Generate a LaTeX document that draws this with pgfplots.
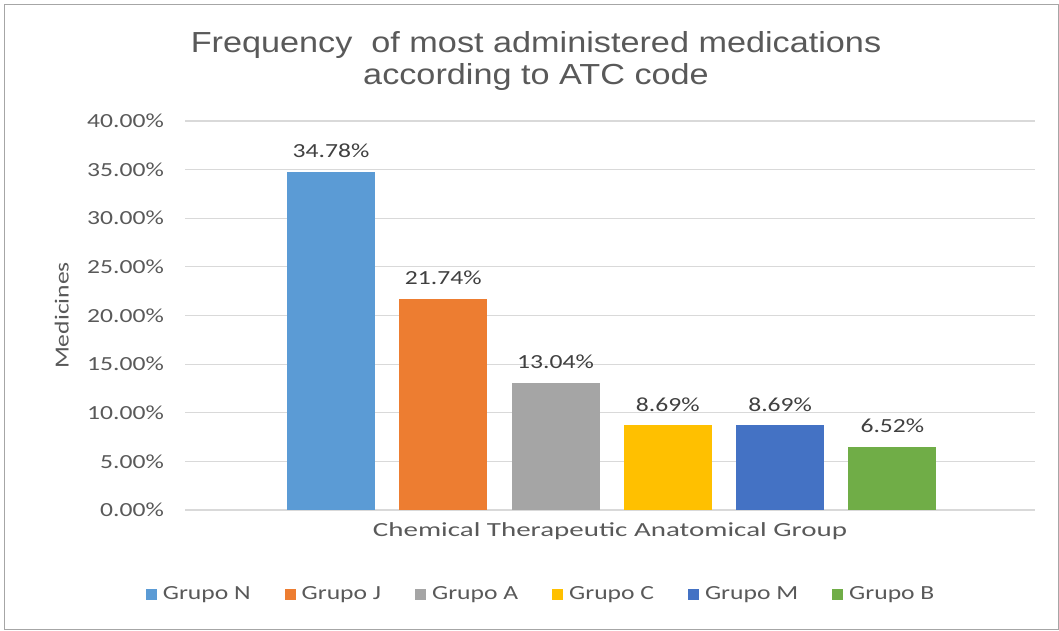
\documentclass[border=0pt]{standalone}
\usepackage{fontspec}
\usepackage{pgfplots}
\pgfplotsset{compat=1.18}
\newfontfamily\titlefont[FakeStretch=1.18]{Liberation Sans}
\newfontfamily\calfont[FakeStretch=1.28]{Carlito}
\newfontfamily\xlabfont[FakeStretch=1.45]{Carlito}
\definecolor{cN}{HTML}{5B9BD5}
\definecolor{cJ}{HTML}{ED7D31}
\definecolor{cA}{HTML}{A5A5A5}
\definecolor{cC}{HTML}{FFC000}
\definecolor{cM}{HTML}{4472C4}
\definecolor{cB}{HTML}{70AD47}
\definecolor{tickgray}{HTML}{595959}
\definecolor{labgray}{HTML}{404040}
\definecolor{gridgray}{HTML}{D9D9D9}
\begin{document}
\begin{tikzpicture}[x=1pt,y=1pt]
\useasboundingbox (0,0) rectangle (1059,630);
\draw[gray!70, line width=1pt] (4,1) rectangle (1058,625);
\node[font={\titlefont\fontsize{29}{32}\selectfont}, text=tickgray, align=center] at (536,569)
  {Frequency \ of most administered medications\\according to ATC code};
\begin{axis}[
  at={(185pt,120pt)}, anchor=south west,
  scale only axis, width=850pt, height=389pt,
  xmin=-1.3, xmax=6.27, ymin=0, ymax=40,
  ytick={0,5,...,40}, xtick=\empty,
  axis line style={draw=none},
  major tick length=0pt,
  ymajorgrids, grid style={gridgray, line width=1.2pt},
  /pgf/number format/assume math mode=true,
  yticklabel={\pgfmathprintnumber[fixed,fixed zerofill,precision=2]{\tick}\%},
  yticklabel style={font={\calfont\fontsize{20}{22}\selectfont}, text=tickgray, inner sep=0pt, xshift=-21pt},
  ylabel={Medicines},
  ylabel style={at={(axis description cs:-0.145,0.5)}, anchor=center, font={\calfont\fontsize{20}{22}\selectfont}, text=tickgray},
  xlabel={Chemical Therapeutic Anatomical Group},
  xlabel style={at={(axis description cs:0.5,0)}, anchor=center, yshift=-21pt, font={\xlabfont\fontsize{20}{22}\selectfont}, text=tickgray},
  ybar, bar width=88pt, bar shift=0pt,
  nodes near coords={\pgfmathprintnumber[fixed,fixed zerofill,precision=2]{\pgfplotspointmeta}\%},
  nodes near coords style={font={\calfont\fontsize{20}{22}\selectfont}, text=labgray, anchor=south, inner sep=0pt, yshift=14pt},
  legend columns=6,
  legend style={at={(axis description cs:0.419,-0.216)}, anchor=center, draw=none, fill=none,
    font={\calfont\fontsize{20}{22}\selectfont}, text=tickgray,
    /tikz/every even column/.append style={column sep=32pt},
    /tikz/every odd column/.append style={column sep=4pt}},
  legend image code/.code={\fill[#1] (0pt,-5.5pt) rectangle (11pt,5.5pt);},
]
\addplot[fill=cN, draw=none] coordinates {(0,34.78)};
\addplot[fill=cJ, draw=none] coordinates {(1,21.74)};
\addplot[fill=cA, draw=none] coordinates {(2,13.04)};
\addplot[fill=cC, draw=none] coordinates {(3,8.69)};
\addplot[fill=cM, draw=none] coordinates {(4,8.69)};
\addplot[fill=cB, draw=none] coordinates {(5,6.52)};
\legend{Grupo N, Grupo J, Grupo A, Grupo C, Grupo M, Grupo B}
\end{axis}
\end{tikzpicture}
\end{document}
